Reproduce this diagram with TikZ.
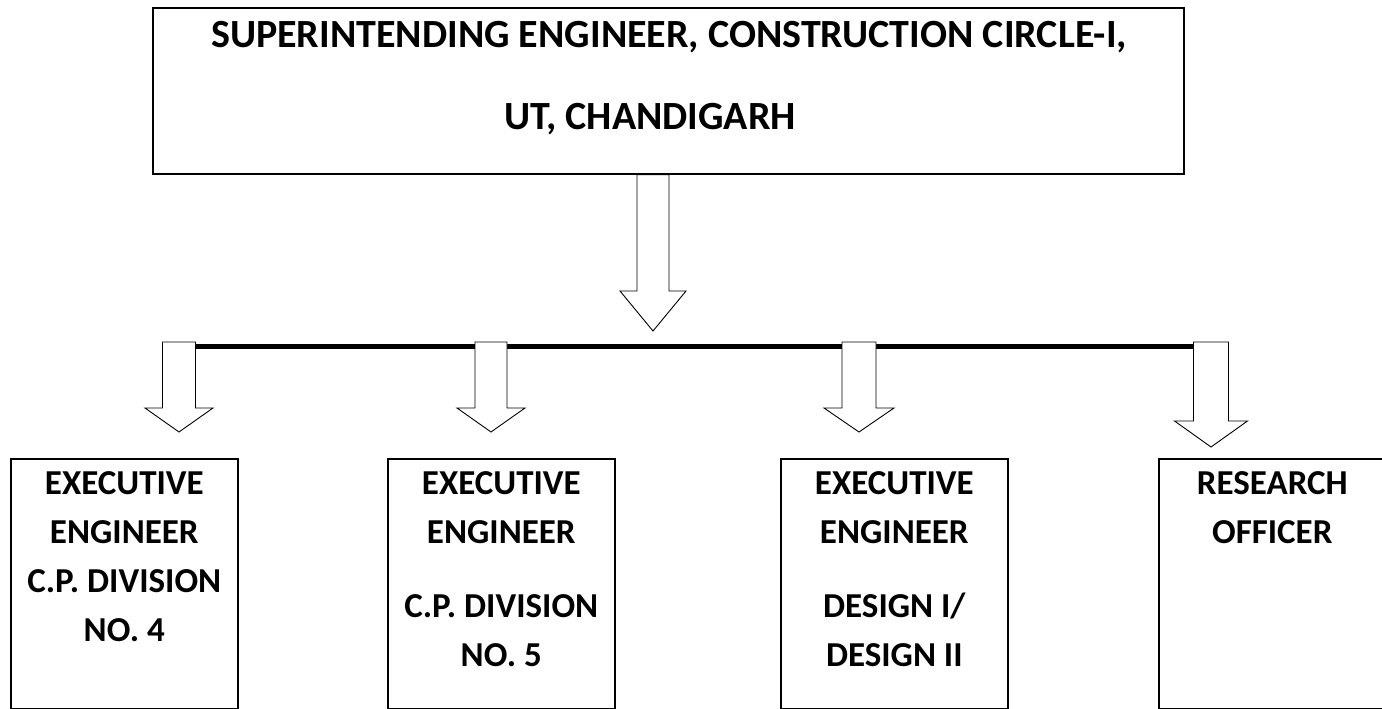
\documentclass[tikz,border=0pt]{standalone}
\usepackage{fontspec}
\setmainfont{Carlito}
\usetikzlibrary{calc}

\tikzset{
  box/.style={draw, line width=1.6pt, minimum width=227pt, minimum height=250pt, inner sep=0pt, anchor=north west},
  boxtext/.style={anchor=north, inner sep=0pt, align=center, font=\fontsize{35}{49}\selectfont\bfseries},
  toptext/.style={anchor=north, inner sep=0pt, align=center, font=\fontsize{40}{82}\selectfont\bfseries},
  hollow/.style={draw, line width=0.9pt, fill=white, line join=miter},
  bar/.style={line width=5pt},
}

% hollow block arrow: start, tip, shaft half width, head half width, head length
\newcommand{\blockarrow}[5]{%
  \draw[hollow] ($(#1)+(-#3,0)$) -- ($(#2)+(-#3,-#5)$) -- ($(#2)+(-#4,-#5)$) -- (#2)
    -- ($(#2)+(#4,-#5)$) -- ($(#2)+(#3,-#5)$) -- ($(#1)+(#3,0)$) -- cycle;}

\begin{document}
\begin{tikzpicture}[x=1pt, y=-1pt]

\useasboundingbox (0,0) rectangle (1382,709);

% Superintending engineer
\node[box, minimum width=1031pt, minimum height=166pt] (se) at (152,7) {};
\node[toptext] (setext) at (669,21) {SUPERINTENDING ENGINEER, CONSTRUCTION CIRCLE-I,\\UT, CHANDIGARH\hspace*{38pt}};

% Offices below
\node[box] (cp4) at (10,458) {};
\node[box] (cp5) at (387,458) {};
\node[box] (dsg) at (780,458) {};
\node[box] (ro) at (1158,458) {};
\node[boxtext] (cp4text) at (cp4.north |- 0,471) {EXECUTIVE\\ENGINEER\\C.P. DIVISION\\NO. 4};
\node[boxtext] (cp5text) at (cp5.north |- 0,471) {EXECUTIVE\\ENGINEER\\[25pt]C.P. DIVISION\\NO. 5};
\node[boxtext] (dsgtext) at (dsg.north |- 0,471) {EXECUTIVE\\ENGINEER\\[25pt]DESIGN I/\\DESIGN II};
\node[boxtext] (rotext) at (ro.north |- 0,471) {RESEARCH\\OFFICER};

% Branch bar
\coordinate (hub) at (653,331);
\coordinate (b1) at (179,342);
\coordinate (b2) at (491,342);
\coordinate (b3) at (859,342);
\coordinate (b4) at (1211,342);
\coordinate (t1) at (179,432);
\coordinate (t2) at (491,432);
\coordinate (t3) at (859,432);
\coordinate (t4) at (1211,447);
\draw[bar] ($(b1)+(0,4)$) -- ($(b4)+(0,4)$);

\blockarrow{hub |- se.south}{hub}{16}{33}{40}
\blockarrow{b1}{t1}{16.5}{34}{24}
\blockarrow{b2}{t2}{16}{34}{24}
\blockarrow{b3}{t3}{17}{35}{24}
\blockarrow{b4}{t4}{17.5}{36.5}{26}

\end{tikzpicture}
\end{document}
